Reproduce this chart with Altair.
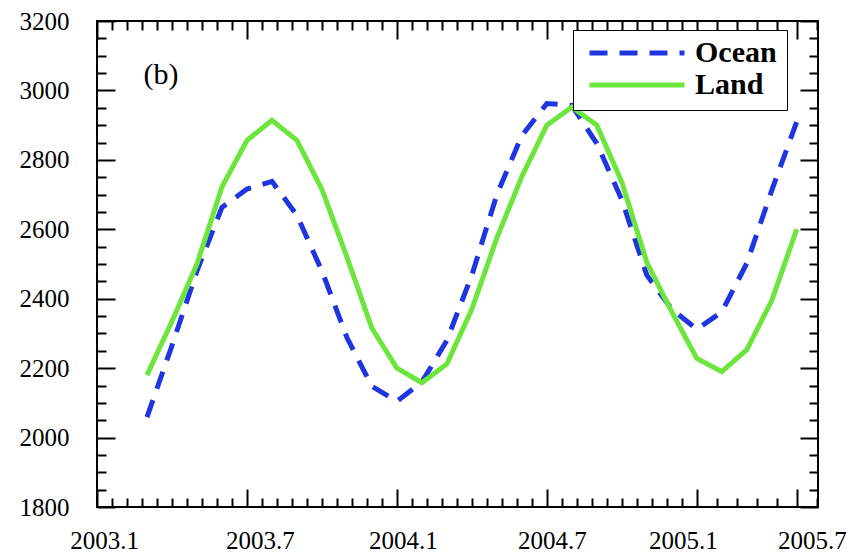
import altair as alt
import pandas as pd

# months counted from Jan 2003 (2 = Mar 2003 ... 28 = May 2005)
MONTHS = list(range(2, 29))
OCEAN = [2059, 2265, 2480, 2663, 2716, 2738, 2640, 2480, 2288, 2148, 2104, 2160, 2280,
         2468, 2700, 2870, 2962, 2957, 2847, 2685, 2468, 2370, 2312, 2362, 2502, 2712, 2910]
LAND = [2180, 2335, 2500, 2722, 2856, 2914, 2856, 2715, 2520, 2315, 2200, 2158, 2212,
        2370, 2575, 2752, 2900, 2952, 2900, 2736, 2505, 2362, 2228, 2190, 2253, 2395, 2600]
SERIES = ["Ocean", "Land"]
COLORS = ["#1f35e0", "#6ce63c"]
XTICK_MONTHS = [0, 6, 12, 18, 24, 28]
XTICK_LABELS = ["2003.1", "2003.7", "2004.1", "2004.7", "2005.1", "2005.7"]
XLABEL_SHIFT = [7, 13, 6, 5, -14, 15]
PANEL = ["(b)"]

df = pd.DataFrame({
    "month": MONTHS + MONTHS,
    "value": OCEAN + LAND,
    "series": ["Ocean"] * len(OCEAN) + ["Land"] * len(LAND),
})

x_minor = [round(0.6 * k, 2) for k in range(41)] + [24.8, 25.6, 26.4, 27.2, 28.8]
x_values = sorted(set(x_minor) | set(XTICK_MONTHS))
y_values = list(range(1800, 3201, 50))

FONT = "Liberation Serif"
lab_map = "({" + ",".join(f"'{m}':'{l}'" for m, l in zip(XTICK_MONTHS, XTICK_LABELS)) + "})"
off_map = "({" + ",".join(f"'{m}':{o}" for m, o in zip(XTICK_MONTHS, XLABEL_SHIFT)) + "})"
major_list = "[" + ",".join(str(m) for m in XTICK_MONTHS) + "]"
x_tick_size = {"expr": f"indexof({major_list}, datum.value) >= 0 ? -18 : -9"}
y_tick_size = {"expr": "datum.value % 200 === 0 ? -18 : -9"}

x_scale = alt.Scale(domain=[0, 28.85], nice=False, zero=False)
y_scale = alt.Scale(domain=[1800, 3200], nice=False, zero=False)

x_bottom = alt.Axis(
    orient="bottom", values=x_values, title=None, domain=False, grid=False,
    tickSize=x_tick_size, tickWidth=2, tickColor="black",
    labelExpr=f"{lab_map}[datum.value] || ''",
    labelOffset={"expr": f"{off_map}[datum.value] || 0"},
    labelPadding=39, labelFont=FONT, labelFontSize=25, labelColor="black",
    labelOverlap=False, labelFlush=False,
)
y_left = alt.Axis(
    orient="left", values=y_values, title=None, domain=False, grid=False,
    tickSize=y_tick_size, tickWidth=2, tickColor="black",
    labelExpr="datum.value % 200 === 0 ? datum.value : ''",
    labelPadding=46, labelFont=FONT, labelFontSize=25, labelColor="black",
    labelOverlap=False,
)
x_top = alt.Axis(
    orient="top", values=x_values, title=None, domain=False, grid=False, labels=False,
    tickSize=x_tick_size, tickWidth=2, tickColor="black",
)
y_right = alt.Axis(
    orient="right", values=y_values, title=None, domain=False, grid=False, labels=False,
    tickSize=y_tick_size, tickWidth=2, tickColor="black",
)

lines = alt.Chart(df).mark_line(strokeWidth=5, strokeCap="butt").encode(
    x=alt.X("month:Q", scale=x_scale, axis=x_bottom),
    y=alt.Y("value:Q", scale=y_scale, axis=y_left),
    color=alt.Color(
        "series:N",
        scale=alt.Scale(domain=SERIES, range=COLORS),
        legend=alt.Legend(
            title=None, orient="none", legendX=476, legendY=9,
            fillColor="white", strokeColor="black", padding=10,
            symbolType="stroke", symbolSize=9025, symbolStrokeWidth=5,
            symbolOffset=4, labelOffset=8, clipHeight=26, rowPadding=2,
            labelFont=FONT, labelFontSize=30, labelFontWeight="bold", labelColor="black",
        ),
    ),
    strokeDash=alt.StrokeDash(
        "series:N",
        scale=alt.Scale(domain=SERIES, range=[[18, 12], [1, 0]]),
        legend=None,
    ),
    detail="series:N",
)

mirror = alt.Chart(df).mark_line(opacity=0).encode(
    x=alt.X("month:Q", scale=x_scale, axis=x_top),
    y=alt.Y("value:Q", scale=y_scale, axis=y_right),
    detail="series:N",
)

panel = alt.Chart(pd.DataFrame({"t": PANEL})).mark_text(
    font=FONT, fontSize=30, color="black", align="center", baseline="middle"
).encode(x=alt.value(64), y=alt.value(54), text="t:N")

chart = alt.layer(lines, mirror, panel).resolve_axis(
    x="independent", y="independent"
).properties(
    width=721, height=486,
    autosize=alt.AutoSizeParams(type="none"),
    padding={"left": 97, "top": 21, "right": 42, "bottom": 50},
    background="white",
).configure_view(stroke="black", strokeWidth=2)

chart.save("out.html", embed_options={"renderer": "svg", "actions": False})
